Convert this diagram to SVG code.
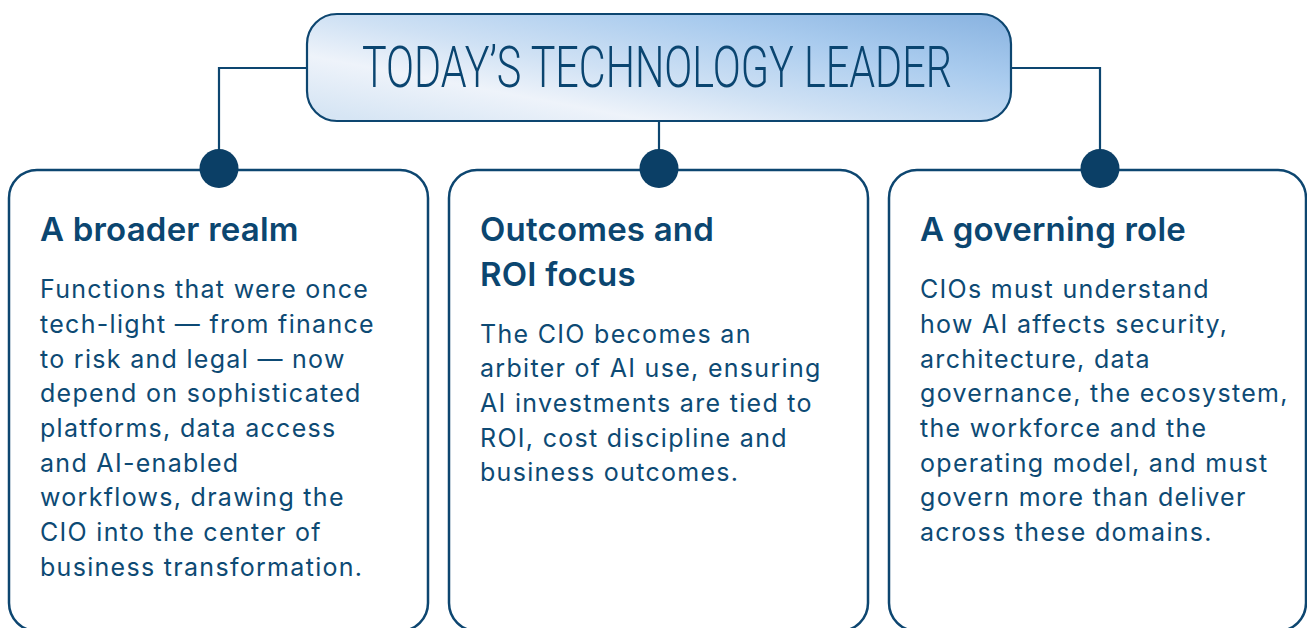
<svg xmlns="http://www.w3.org/2000/svg" width="1307" height="628" viewBox="0 0 1307 628">
  <defs>
    <linearGradient id="titleFill" x1="0" y1="0.9" x2="1" y2="0.1">
      <stop offset="0" stop-color="#d6e5f4"/>
      <stop offset="0.25" stop-color="#eef3fa"/>
      <stop offset="0.45" stop-color="#cfe1f4"/>
      <stop offset="0.75" stop-color="#a9cbee"/>
      <stop offset="1" stop-color="#8db6e2"/>
    </linearGradient>
    <style>
      .card { fill: #ffffff; stroke: #0d4670; stroke-width: 2.5; }
      .link { fill: none; stroke: #0d4670; stroke-width: 2.2; }
      .dot { fill: #0b3f66; }
      .head { font-family: Inter, "Noto Sans", sans-serif; font-size: 33px; font-weight: 600; letter-spacing: 0.2px; fill: #0b4670; }
      .body { font-family: Inter, "Noto Sans", sans-serif; font-size: 25px; font-weight: 400; letter-spacing: 1.3px; fill: #0d4a74; }
      .title { font-family: Roboto, "Liberation Sans", sans-serif; font-size: 58px; font-weight: 300; fill: #0a4570; }
    </style>
  </defs>

  <!-- connectors from the title box down to each card -->
  <g id="connectors">
    <path class="link" d="M307,68 H219 V168"/>
    <path class="link" d="M659,121 V168"/>
    <path class="link" d="M1011,68 H1100 V168"/>
  </g>

  <g id="title">
    <rect x="307" y="14" width="704" height="107" rx="30" ry="30" fill="url(#titleFill)" stroke="#0d4670" stroke-width="2.2"/>
    <text class="title" x="362" y="87" textLength="590" lengthAdjust="spacingAndGlyphs">TODAY’S TECHNOLOGY LEADER</text>
  </g>

  <g id="card-realm">
    <rect class="card" x="9" y="170" width="419" height="461" rx="28" ry="28"/>
    <circle class="dot" cx="219" cy="168.5" r="19.5"/>
    <text class="head" x="40" y="241">A broader realm</text>
    <text class="body">
      <tspan x="40" y="298">Functions that were once</tspan>
      <tspan x="40" y="333">tech-light — from finance</tspan>
      <tspan x="40" y="368">to risk and legal — now</tspan>
      <tspan x="40" y="402">depend on sophisticated</tspan>
      <tspan x="40" y="437">platforms, data access</tspan>
      <tspan x="40" y="472">and AI-enabled</tspan>
      <tspan x="40" y="506">workflows, drawing the</tspan>
      <tspan x="40" y="541">CIO into the center of</tspan>
      <tspan x="40" y="576">business transformation.</tspan>
    </text>
  </g>

  <g id="card-outcomes">
    <rect class="card" x="449" y="170" width="419" height="461" rx="28" ry="28"/>
    <circle class="dot" cx="659" cy="168.5" r="19.5"/>
    <text class="head">
      <tspan x="480" y="241">Outcomes and</tspan>
      <tspan x="480" y="286">ROI focus</tspan>
    </text>
    <text class="body">
      <tspan x="480" y="343">The CIO becomes an</tspan>
      <tspan x="480" y="377">arbiter of AI use, ensuring</tspan>
      <tspan x="480" y="412">AI investments are tied to</tspan>
      <tspan x="480" y="447">ROI, cost discipline and</tspan>
      <tspan x="480" y="481">business outcomes.</tspan>
    </text>
  </g>

  <g id="card-governing">
    <rect class="card" x="889" y="170" width="417" height="461" rx="28" ry="28"/>
    <circle class="dot" cx="1100" cy="168.5" r="19.5"/>
    <text class="head" x="920" y="241">A governing role</text>
    <text class="body">
      <tspan x="920" y="298">CIOs must understand</tspan>
      <tspan x="920" y="333">how AI affects security,</tspan>
      <tspan x="920" y="368">architecture, data</tspan>
      <tspan x="920" y="402">governance, the ecosystem,</tspan>
      <tspan x="920" y="437">the workforce and the</tspan>
      <tspan x="920" y="472">operating model, and must</tspan>
      <tspan x="920" y="506">govern more than deliver</tspan>
      <tspan x="920" y="541">across these domains.</tspan>
    </text>
  </g>
</svg>
